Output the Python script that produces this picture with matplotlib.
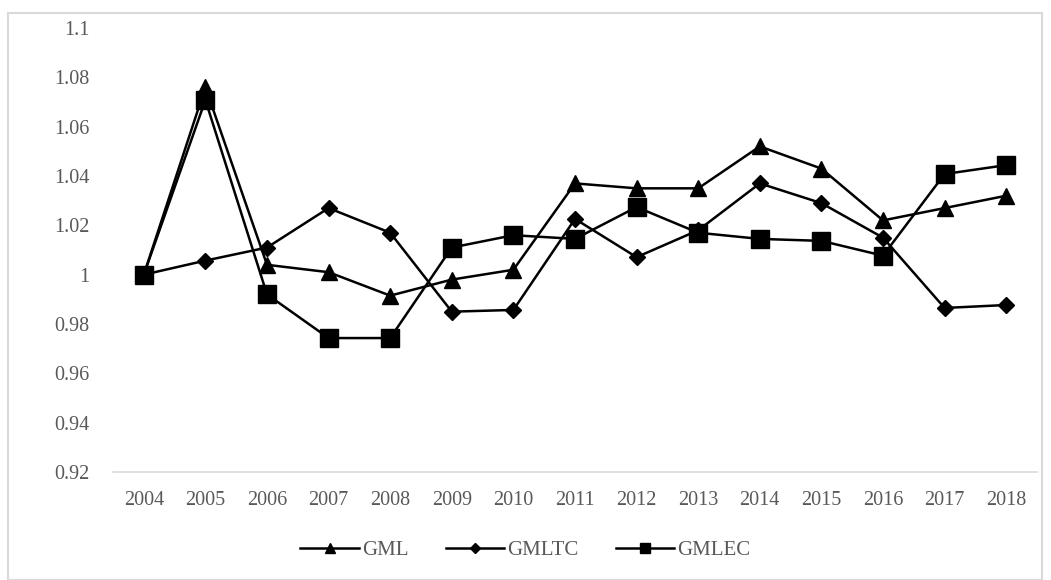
import numpy as np
import matplotlib.pyplot as plt
from matplotlib.patches import Rectangle

plt.rcParams['font.family'] = ['Liberation Serif', 'DejaVu Serif']

years = ['2004', '2005', '2006', '2007', '2008', '2009', '2010', '2011',
         '2012', '2013', '2014', '2015', '2016', '2017', '2018']
gml = [1.000, 1.076, 1.004, 1.001, 0.9915, 0.998, 1.002, 1.037,
       1.035, 1.035, 1.052, 1.043, 1.022, 1.027, 1.032]
gml_tc = [1.000, 1.0057, 1.011, 1.027, 1.017, 0.985, 0.9857, 1.0226,
          1.0071, 1.018, 1.037, 1.029, 1.015, 0.9865, 0.9877]
gml_ec = [1.000, 1.0708, 0.992, 0.9743, 0.9743, 1.011, 1.016, 1.0145,
          1.0274, 1.017, 1.0145, 1.0137, 1.0077, 1.0408, 1.0444]
yticks = [0.92, 0.94, 0.96, 0.98, 1.0, 1.02, 1.04, 1.06, 1.08, 1.1]
ytick_labels = ['0.92', '0.94', '0.96', '0.98', '1', '1.02', '1.04', '1.06', '1.08', '1.1']

fig = plt.figure(figsize=(10.51, 5.8), dpi=100)
ax = fig.add_axes([113 / 1051, 1 - 472 / 580, 924 / 1051, 444 / 580])

# light grey frame around the whole figure
fig.patches.append(Rectangle((8 / 1051, 0.0), 1034 / 1051, 1 - 13 / 580,
                             transform=fig.transFigure, fill=False,
                             edgecolor='#d9d9d9', linewidth=1.5))

x = np.arange(len(years))
ax.plot(x, gml, color='black', lw=1.8, marker='^', ms=11.5, label='GML')
ax.plot(x, gml_tc, color='black', lw=1.8, marker='D', ms=8.5, label='GMLTC')
ax.plot(x, gml_ec, color='black', lw=1.8, marker='s', ms=13, label='GMLEC')

ax.set_xlim(-0.5, len(years) - 0.5)
ax.set_ylim(0.92, 1.1)
ax.set_xticks(x)
ax.set_xticklabels(years)
ax.set_yticks(yticks)
ax.set_yticklabels(ytick_labels)
ax.tick_params(length=0, labelsize=14.5, labelcolor='#595959')
ax.tick_params(axis='x', pad=14)
ax.tick_params(axis='y', pad=17)

for side in ['top', 'right', 'left']:
    ax.spines[side].set_visible(False)
ax.spines['bottom'].set_color('#d9d9d9')
ax.spines['bottom'].set_linewidth(1.2)

handles, labels = ax.get_legend_handles_labels()
leg = fig.legend(handles, labels, loc='center', bbox_to_anchor=(0.5, 1 - 550 / 580),
                 ncol=3, frameon=False, fontsize=15, markerscale=0.6,
                 handlelength=2.8, columnspacing=1.8, handletextpad=0.15)
for t in leg.get_texts():
    t.set_color('#595959')

fig.savefig('out.png', dpi=100)
